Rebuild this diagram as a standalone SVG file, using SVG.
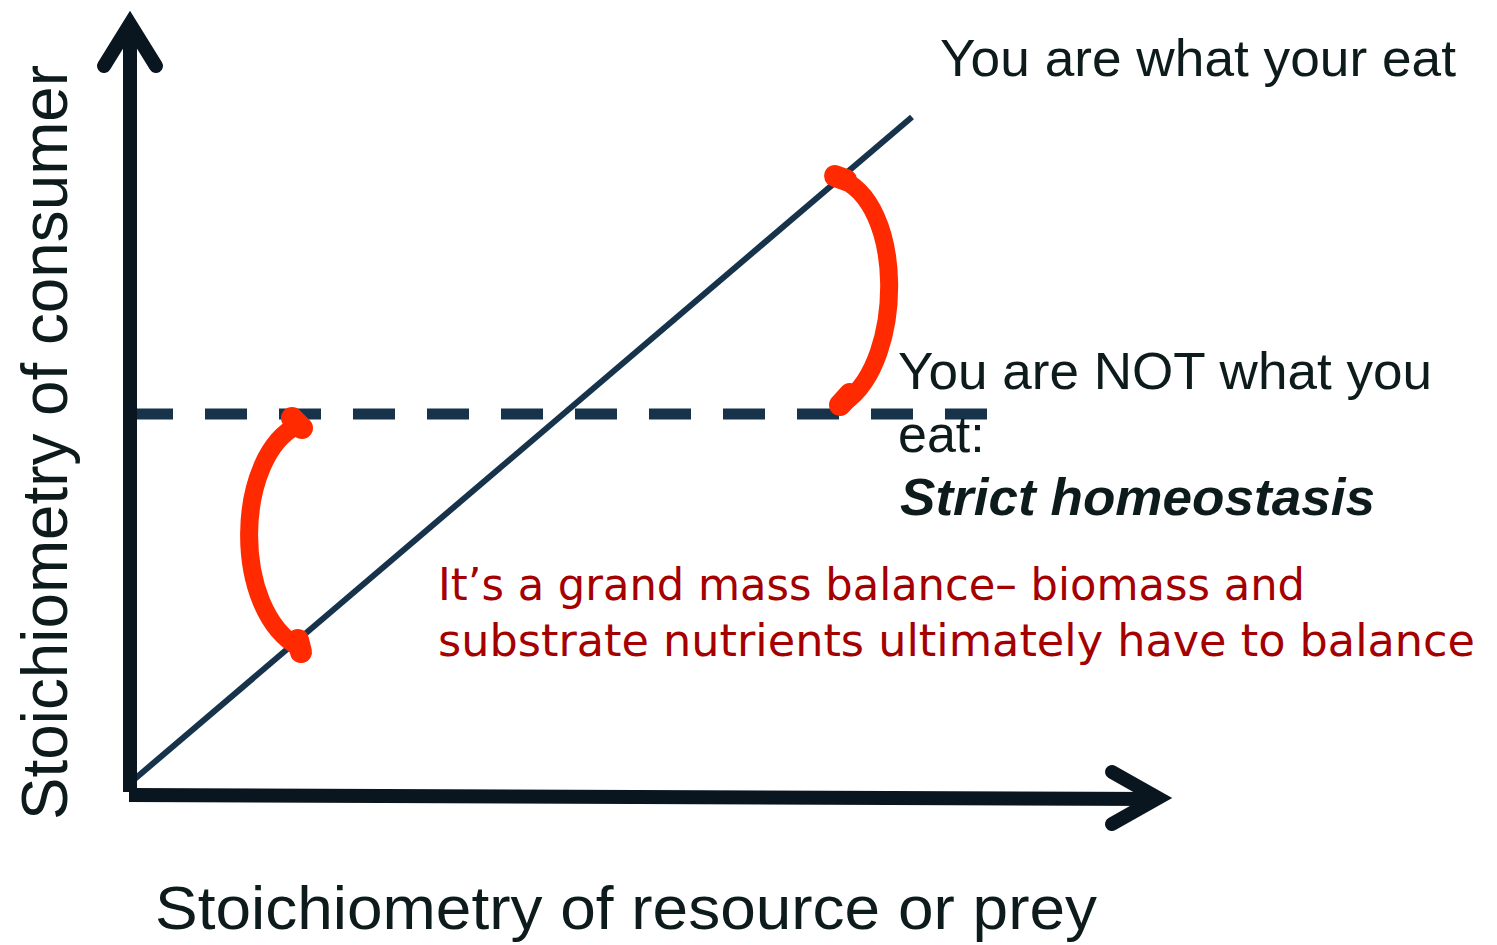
<svg xmlns="http://www.w3.org/2000/svg" width="1497" height="945" viewBox="0 0 1497 945">
<style>
.ax{fill:none;stroke:#09151f;stroke-width:14;}
.chev{fill:none;stroke:#09151f;stroke-width:14;stroke-linecap:round;stroke-linejoin:miter;}
.diag{fill:none;stroke:#16334b;stroke-width:6;}
.dash{fill:none;stroke:#16334b;stroke-width:11;stroke-dasharray:42 32;}
.br{fill:none;stroke:#ff2a00;stroke-width:18;stroke-linecap:round;}
.stub{fill:none;stroke:#ff2a00;stroke-width:22;stroke-linecap:round;}
.t{font-family:"Liberation Sans",Arial,sans-serif;fill:#0e1b1c;}
.r{font-family:"DejaVu Sans","Liberation Sans",sans-serif;fill:#a50000;font-size:44px;}
</style>
<rect width="1497" height="945" fill="#ffffff"/>
<g id="connectors">
<line class="diag" x1="130" y1="783" x2="912" y2="117"/>
<line class="dash" x1="131" y1="414" x2="990" y2="414"/>
</g>
<g id="y-axis">
<line class="ax" x1="130" y1="26" x2="130" y2="792"/>
<polyline class="chev" points="104,66 130,24 156,66"/>
</g>
<g id="x-axis">
<line class="ax" x1="129" y1="795" x2="1158" y2="799"/>
<polyline class="chev" points="1112,772 1158,798 1112,824"/>
</g>
<g id="bracket-right">
<path class="br" d="M 838 178 C 905 200, 905 360, 845 402"/>
<line class="stub" x1="835" y1="176" x2="846" y2="180"/>
<line class="stub" x1="840" y1="405" x2="850" y2="394"/>
</g>
<g id="bracket-left">
<path class="br" d="M 298 425 C 235 455, 230 610, 300 648"/>
<line class="stub" x1="292" y1="418" x2="302" y2="428"/>
<line class="stub" x1="298" y1="640" x2="301" y2="652"/>
</g>
<g id="label-eat">
<text class="t" x="940" y="76" font-size="52" textLength="516" lengthAdjust="spacingAndGlyphs">You are what your eat</text>
</g>
<g id="label-not">
<text class="t" x="898" y="389" font-size="52" textLength="534" lengthAdjust="spacingAndGlyphs">You are NOT what you</text>
<text class="t" x="898" y="452" font-size="52">eat:</text>
<text class="t" x="900" y="515" font-size="52" font-weight="bold" font-style="italic" textLength="475" lengthAdjust="spacingAndGlyphs">Strict homeostasis</text>
</g>
<g id="label-balance">
<text class="r" x="438" y="600" textLength="867" lengthAdjust="spacingAndGlyphs">It’s a grand mass balance– biomass and</text>
<text class="r" x="438" y="656" textLength="1037" lengthAdjust="spacingAndGlyphs">substrate nutrients ultimately have to balance</text>
</g>
<g id="label-y">
<text class="t" transform="translate(67,820) rotate(-90)" x="0" y="0" font-size="64" textLength="755" lengthAdjust="spacingAndGlyphs">Stoichiometry of consumer</text>
</g>
<g id="label-x">
<text class="t" x="155" y="929" font-size="62" textLength="942" lengthAdjust="spacingAndGlyphs">Stoichiometry of resource or prey</text>
</g>
</svg>
